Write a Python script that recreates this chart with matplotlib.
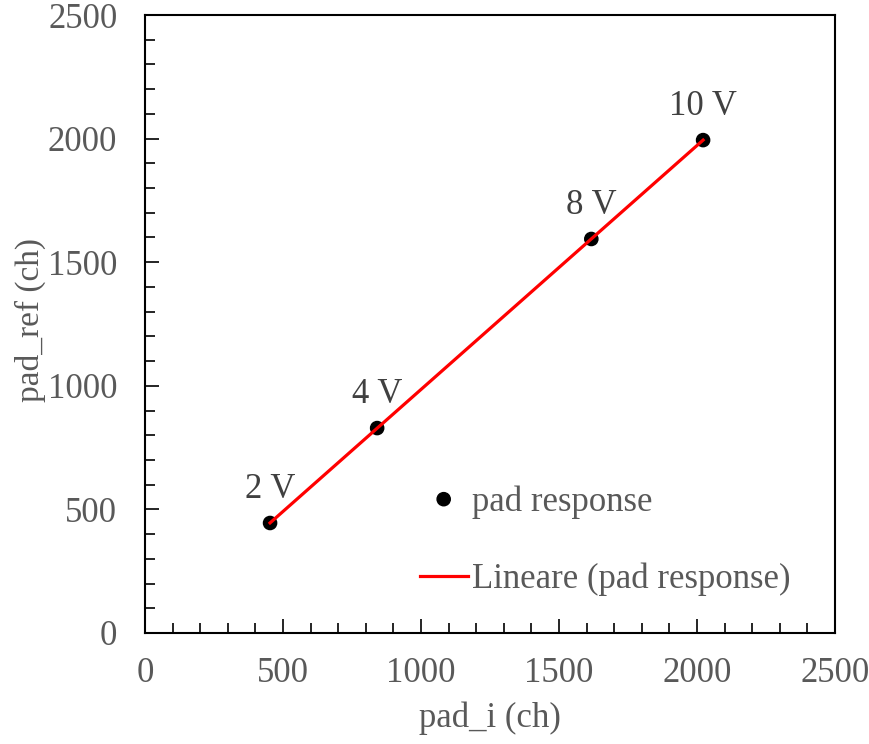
import numpy as np
import matplotlib
matplotlib.use("Agg")
import matplotlib.pyplot as plt
import matplotlib.patheffects as pe
from matplotlib.ticker import MultipleLocator

pad_i = [453, 841, 1617, 2022]
pad_ref = [445, 829, 1594, 1994]
labels = ["2 V", "4 V", "8 V", "10 V"]

plt.rcParams["font.family"] = ["Liberation Serif", "DejaVu Serif"]
grey = "#595959"
fs = 25

fig = plt.figure(figsize=(8.69, 7.44), dpi=100)
ax = fig.add_axes([0.1669, 0.1492, 0.794, 0.8306])

# linear trendline
m, b = np.polyfit(pad_i, pad_ref, 1)
xs = np.array([min(pad_i), max(pad_i)])
ax.plot(xs, m * xs + b, color="red", lw=2.3, label="Lineare (pad response)", zorder=3)

ax.plot(pad_i, pad_ref, "o", color="black", ms=9.5, label="pad response", zorder=2,
        path_effects=[pe.SimpleLineShadow(offset=(1, -1.5), shadow_color="gray", alpha=0.5, linewidth=0),
                      pe.Normal()])

for x, y, t in zip(pad_i, pad_ref, labels):
    ax.annotate(t, (x, y), xytext=(0, 24), textcoords="offset points",
                ha="center", va="center", fontsize=fs, color="#404040")

ax.set_xlim(0, 2500)
ax.set_ylim(0, 2500)
ax.xaxis.set_major_locator(MultipleLocator(500))
ax.yaxis.set_major_locator(MultipleLocator(500))
ax.xaxis.set_minor_locator(MultipleLocator(100))
ax.yaxis.set_minor_locator(MultipleLocator(100))
ax.tick_params(which="both", direction="in", colors="black", labelcolor=grey,
               labelsize=fs, width=1.2)
ax.tick_params(which="major", length=10)
ax.tick_params(axis="y", which="major", pad=20)
ax.tick_params(axis="x", which="major", pad=17)
ax.tick_params(which="minor", length=7)
for s in ax.spines.values():
    s.set_linewidth(1.5)

ax.set_xlabel("pad_i (ch)", fontsize=fs, color=grey, va="center")
ax.set_ylabel("pad_ref (ch)", fontsize=24, color=grey, va="center")
ax.xaxis.set_label_coords(0.5, -0.1375)
ax.yaxis.set_label_coords(-0.166, 0.506)

h, l = ax.get_legend_handles_labels()
ax.legend(h[::-1], l[::-1], loc="upper left", bbox_to_anchor=(0.483, 0.347),
          bbox_transform=fig.transFigure, frameon=False, fontsize=fs,
          labelcolor=grey, borderpad=0, borderaxespad=0, handlelength=1.38,
          handletextpad=0.12, labelspacing=1.24)

fig.savefig("out.png", dpi=100)
